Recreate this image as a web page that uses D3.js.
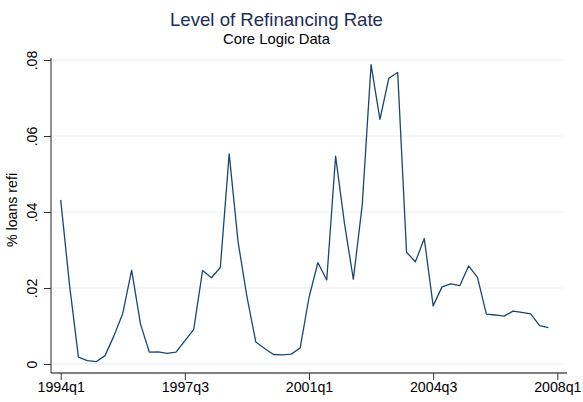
<!DOCTYPE html>
<html>
<head>
<meta charset="utf-8">
<script src="https://cdn.jsdelivr.net/npm/d3@7"></script>
<style>
  body { margin: 0; background: #fff; }
  svg { font-family: "Liberation Sans", Arial, sans-serif; }
  .grid line { stroke: #e6eff1; stroke-width: 1; }
</style>
</head>
<body>
<svg width="583" height="402"></svg>
<script>
// quarterly refi share, 1994q1 .. 2007q4
var startYear = 1994;
var refi = [
  0.0432, 0.0207, 0.0018, 0.0009, 0.0006, 0.0022, 0.0074, 0.0133,
  0.0247, 0.0105, 0.0031, 0.0032, 0.0028, 0.0031, 0.0061, 0.0091,
  0.0246, 0.0227, 0.0254, 0.0553, 0.0322, 0.0177, 0.0058, 0.0041,
  0.0025, 0.0024, 0.0026, 0.0042, 0.0175, 0.0267, 0.0221, 0.0547,
  0.0370, 0.0223, 0.0418, 0.0788, 0.0644, 0.0752, 0.0767, 0.0294,
  0.0269, 0.0330, 0.0153, 0.0203, 0.0211, 0.0206, 0.0258, 0.0228,
  0.0131, 0.0129, 0.0126, 0.0139, 0.0136, 0.0132, 0.0101, 0.0096
];
var xTickIdx = [0, 14, 28, 42, 56];
var xTickLabels = ["1994q1", "1997q3", "2001q1", "2004q3", "2008q1"];
var yTicks = [0, 0.02, 0.04, 0.06, 0.08];
var yTickLabels = ["0", ".02", ".04", ".06", ".08"];

var quarters = refi.map(function(v, i) {
  return (startYear + Math.floor(i / 4)) + "q" + (i % 4 + 1);
});

var svg = d3.select("svg");

var x = d3.scaleLinear().domain([0, 56]).range([60.7, 557.3]);
var y = d3.scaleLinear().domain([0, 0.08]).range([364, 60]);

// title
svg.append("text")
  .attr("x", 276.5).attr("y", 25.5)
  .attr("text-anchor", "middle")
  .attr("font-size", 18.6)
  .attr("fill", "#1c2d5a")
  .text("Level of Refinancing Rate");
svg.append("text")
  .attr("x", 276.5).attr("y", 44)
  .attr("text-anchor", "middle")
  .attr("font-size", 14.8)
  .attr("fill", "#000")
  .text("Core Logic Data");

// gridlines
svg.append("g").attr("class", "grid")
  .selectAll("line")
  .data(yTicks)
  .enter().append("line")
  .attr("x1", 52).attr("x2", 564)
  .attr("y1", function(d) { return y(d); })
  .attr("y2", function(d) { return y(d); });

// y axis
var yAxis = d3.axisLeft(y)
  .tickValues(yTicks)
  .tickSize(7)
  .tickPadding(0)
  .tickFormat(function(d, i) { return yTickLabels[i]; });

var gy = svg.append("g")
  .attr("transform", "translate(51,0)")
  .call(yAxis);
gy.select(".domain").attr("d", "M0,58V373").attr("stroke", "#555").attr("stroke-width", 1.3);
gy.selectAll(".tick line").attr("stroke", "#333");
gy.selectAll(".tick text")
  .attr("font-size", 14.2)
  .attr("fill", "#000")
  .attr("text-anchor", "middle")
  .attr("transform", "translate(-19,0) rotate(-90)")
  .attr("x", 0)
  .attr("dy", "0.32em");

// x axis
var xAxis = d3.axisBottom(x)
  .tickValues(xTickIdx)
  .tickSize(7)
  .tickPadding(2)
  .tickFormat(function(d, i) { return xTickLabels[i]; });

var gx = svg.append("g")
  .attr("transform", "translate(0,373)")
  .call(xAxis);
gx.select(".domain").attr("d", "M51,0H567").attr("stroke", "#555").attr("stroke-width", 1.3);
gx.selectAll(".tick line").attr("stroke", "#333");
gx.selectAll(".tick text")
  .attr("font-size", 14.2)
  .attr("fill", "#000");

// y axis title
svg.append("text")
  .attr("transform", "translate(17,210) rotate(-90)")
  .attr("text-anchor", "middle")
  .attr("font-size", 14.2)
  .attr("fill", "#000")
  .text("% loans refi");

// series
var line = d3.line()
  .x(function(d, i) { return x(i); })
  .y(function(d) { return y(d); });

svg.append("path")
  .datum(refi)
  .attr("fill", "none")
  .attr("stroke", "#1a476f")
  .attr("stroke-width", 1.3)
  .attr("stroke-linejoin", "round")
  .attr("d", line);
</script>
</body>
</html>
